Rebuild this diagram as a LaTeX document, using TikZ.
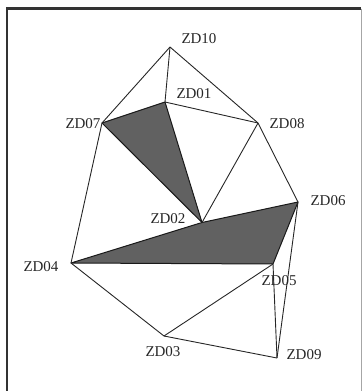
\documentclass[tikz,border=0pt]{standalone}
\usepackage{fontspec}
\setmainfont{Liberation Serif}
\begin{document}
\begin{tikzpicture}[x=1pt,y=-1pt,
  pt/.style={coordinate},
  lbl/.style={font=\fontsize{15}{15}\selectfont, inner sep=0pt, text=black!85},
  edge/.style={draw=black!85, line width=0.9pt},
  shade/.style={fill=black!62, draw=black!90, line width=1pt, line join=round}]
\useasboundingbox (0,0) rectangle (362,391);
% frame
\draw[line width=2.2pt, black!80] (7,391) -- (7,8.5) -- (361,8.5);
\draw[line width=0.8pt, black!35] (361,8.5) -- (361,391);
% points
\coordinate (d10) at (170,47);
\coordinate (d01) at (165,102);
\coordinate (d07) at (102,123);
\coordinate (d08) at (258,123);
\coordinate (d06) at (298,202);
\coordinate (d02) at (202,222.5);
\coordinate (d04) at (71,263);
\coordinate (d05) at (273,264);
\coordinate (d03) at (164,336);
\coordinate (d09) at (277,358);
% shaded regions
\path[shade] (d07) -- (d01) -- (d02) -- cycle;
\path[shade] (d04) -- (d02) -- (d06) -- (d05) -- cycle;
% edges
\draw[edge] (d10) -- (d07);
\draw[edge] (d10) -- (d01);
\draw[edge] (d10) -- (d08);
\draw[edge] (d01) -- (d08);
\draw[edge] (d08) -- (d02);
\draw[edge] (d08) -- (d06);
\draw[edge] (d07) -- (d04);
\draw[edge] (d04) -- (d03);
\draw[edge] (d03) -- (d05);
\draw[edge] (d03) -- (d09);
\draw[edge] (d05) -- (d09);
\draw[edge] (d06) -- (d09);
% labels
\node[lbl] (l10) at (199,39) {ZD10};
\node[lbl] (l01) at (194,94) {ZD01};
\node[lbl] (l07) at (83,124) {ZD07};
\node[lbl] (l08) at (287,124) {ZD08};
\node[lbl] (l06) at (328,201) {ZD06};
\node[lbl] (l02) at (168,219) {ZD02};
\node[lbl] (l04) at (41,267) {ZD04};
\node[lbl] (l05) at (279,281) {ZD05};
\node[lbl] (l03) at (163,352) {ZD03};
\node[lbl] (l09) at (304,355) {ZD09};
\end{tikzpicture}
\end{document}
